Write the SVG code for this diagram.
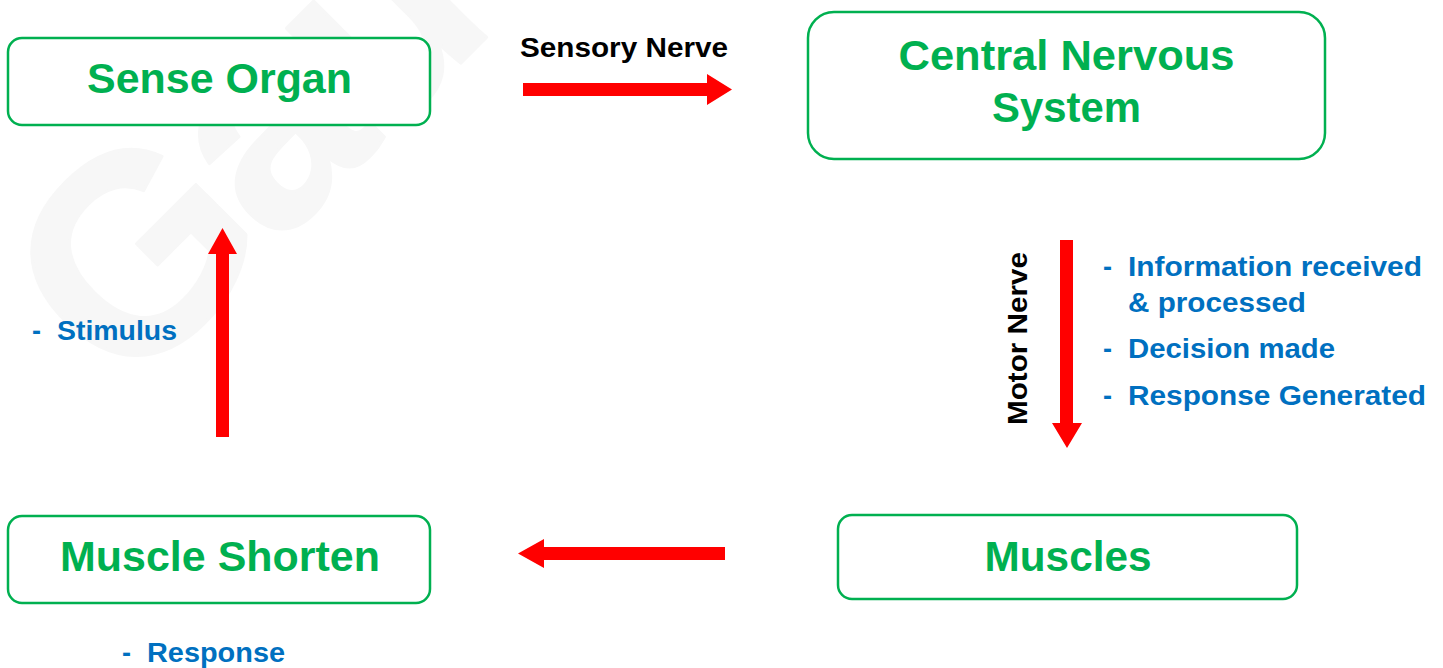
<svg xmlns="http://www.w3.org/2000/svg" width="1443" height="668" viewBox="0 0 1443 668">
  <style>
    .box { fill: #ffffff; stroke: #00b050; stroke-width: 2.5; }
    .title { font-family: "Liberation Sans", Arial, sans-serif; font-weight: bold; font-size: 43px; fill: #00b050; text-anchor: middle; }
    .label { font-family: "Liberation Sans", Arial, sans-serif; font-weight: bold; font-size: 27px; fill: #000000; }
    .note { font-family: "Liberation Sans", Arial, sans-serif; font-weight: bold; font-size: 27px; fill: #0070c0; }
    .arrow { fill: #ff0000; }
    .mark { font-family: "Liberation Sans", Arial, sans-serif; font-weight: bold; font-size: 280px; fill: #f7f7f7; stroke: #f7f7f7; stroke-width: 3; stroke-linejoin: round; }
  </style>

  <rect width="1443" height="668" fill="#ffffff"/>

  <!-- faint background lettering -->
  <g id="backdrop">
    <text class="mark" transform="translate(126,398) rotate(-45)" letter-spacing="-8">Gau</text>
  </g>

  <!-- connectors -->
  <g id="connectors">
    <polygon class="arrow" points="523,83 707,83 707,74 732,89.5 707,105 707,96 523,96"/>
    <polygon class="arrow" points="1060,240 1073,240 1073,423 1082,423 1067,448 1052,423 1060,423"/>
    <polygon class="arrow" points="725,547 725,560 544,560 544,568 518,553.5 544,539 544,547"/>
    <polygon class="arrow" points="216,437 229,437 229,254 237,254 222.5,228 208,254 216,254"/>
    <text class="label" x="520" y="57" textLength="208" lengthAdjust="spacingAndGlyphs">Sensory Nerve</text>
    <text class="label" transform="translate(1027,425) rotate(-90)" textLength="173" lengthAdjust="spacingAndGlyphs">Motor Nerve</text>
  </g>

  <g id="sense-organ">
    <rect class="box" x="8" y="38" width="422" height="87" rx="14"/>
    <text class="title" x="219.5" y="93" textLength="265" lengthAdjust="spacingAndGlyphs">Sense Organ</text>
  </g>

  <g id="central-nervous-system">
    <rect class="box" x="808" y="12" width="517" height="147" rx="26"/>
    <text class="title" x="1066.5" y="70" textLength="336" lengthAdjust="spacingAndGlyphs">Central Nervous</text>
    <text class="title" x="1066.5" y="122" textLength="149" lengthAdjust="spacingAndGlyphs">System</text>
  </g>

  <g id="muscles">
    <rect class="box" x="838" y="515" width="459" height="84" rx="14"/>
    <text class="title" x="1068" y="571" textLength="167" lengthAdjust="spacingAndGlyphs">Muscles</text>
  </g>

  <g id="muscle-shorten">
    <rect class="box" x="8" y="516" width="422" height="87" rx="14"/>
    <text class="title" x="220" y="571" textLength="320" lengthAdjust="spacingAndGlyphs">Muscle Shorten</text>
  </g>

  <g id="processing-notes">
    <text class="note" x="1103" y="276">-</text>
    <text class="note" x="1128" y="276" textLength="294" lengthAdjust="spacingAndGlyphs">Information received</text>
    <text class="note" x="1128" y="312" textLength="178" lengthAdjust="spacingAndGlyphs">&amp; processed</text>
    <text class="note" x="1103" y="358">-</text>
    <text class="note" x="1128" y="358" textLength="207" lengthAdjust="spacingAndGlyphs">Decision made</text>
    <text class="note" x="1103" y="405">-</text>
    <text class="note" x="1128" y="405" textLength="298" lengthAdjust="spacingAndGlyphs">Response Generated</text>
  </g>

  <g id="stimulus-note">
    <text class="note" x="32" y="340">-</text>
    <text class="note" x="57" y="340" textLength="120" lengthAdjust="spacingAndGlyphs">Stimulus</text>
  </g>

  <g id="response-note">
    <text class="note" x="122" y="662">-</text>
    <text class="note" x="147" y="662" textLength="138" lengthAdjust="spacingAndGlyphs">Response</text>
  </g>
</svg>
